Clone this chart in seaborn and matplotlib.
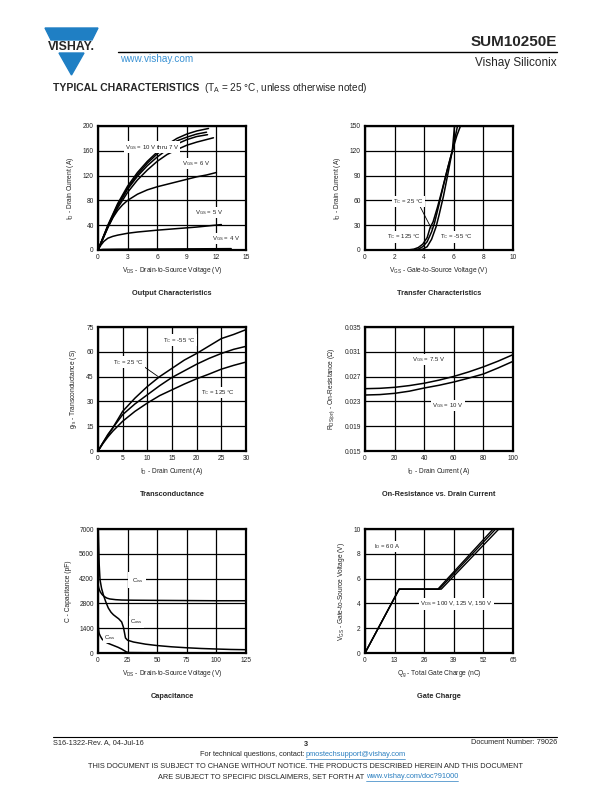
import numpy as np
import pandas as pd
import seaborn as sns
from matplotlib import pyplot as plt
from matplotlib.patches import Polygon

sns.set_style('white')
plt.rcParams['font.family'] = ['Liberation Sans', 'DejaVu Sans']
plt.rcParams['mathtext.fontset'] = 'custom'
plt.rcParams['mathtext.rm'] = 'Liberation Sans'

# output characteristics: VDS (V) vs ID (A)
vds_10 = [0, 1, 2, 3, 4, 5, 6, 7, 8, 9, 10, 11.2]
id_10 = [0, 40, 75, 103, 125, 143, 158, 170, 180, 187, 192, 196]
vds_9 = [0, 1, 2, 3, 4, 5, 6, 7, 8, 9, 10, 11]
id_9 = [0, 39, 73, 100, 122, 140, 155, 167, 176, 182, 187, 190]
vds_8 = [0, 1, 2, 3, 4, 5, 6, 7, 8, 9, 10, 11.1]
id_8 = [0, 38, 71, 98, 119, 136, 150, 162, 171, 178, 183, 186]
vds_7 = [0, 1, 2, 3, 4, 5, 6, 7, 8, 9, 10, 11.7]
id_7 = [0, 37, 68, 93, 113, 129, 143, 154, 162, 169, 174, 181]
vds_6 = [0, 0.5, 1, 1.5, 2, 2.5, 3, 4, 5, 6, 7, 8, 9, 10, 11, 12]
id_6 = [0, 18, 36, 52, 64, 73, 80, 90, 97, 102, 106, 110, 114, 118, 121, 125]
vds_5 = [0, 0.3, 0.6, 1, 1.5, 2, 3, 4, 6, 8, 10, 12.5]
id_5 = [0, 8, 14, 19, 22, 24, 27, 29, 32, 34.5, 37, 41]
vds_4 = [0, 0.5, 2, 6, 10, 13.5]
id_4 = [0, 1, 1.3, 1.6, 1.9, 2.2]

# transfer characteristics: VGS (V) vs ID (A)
vgs_125 = [2.9, 3.3, 3.6, 3.9, 4.2, 4.4, 4.6, 4.9, 5.2, 5.5, 5.9, 6.2, 6.45]
idt_125 = [0, 1, 3, 7, 15, 27, 34, 52, 72, 93, 120, 138, 150]
vgs_25 = [3.2, 3.6, 3.9, 4.2, 4.5, 4.7, 5.0, 5.3, 5.6, 5.9, 6.1, 6.25]
idt_25 = [0, 1, 4, 10, 22, 33, 55, 78, 100, 120, 137, 150]
vgs_m55 = [3.5, 3.9, 4.2, 4.5, 4.8, 5.0, 5.3, 5.6, 5.9, 6.05]
idt_m55 = [0, 1, 4, 13, 28, 42, 65, 92, 120, 150]

# transconductance: ID (A) vs gfs (S)
id_gfs = [0, 1, 2, 3, 5, 7.5, 10, 12.5, 15, 17.5, 20, 22.5, 25, 27.5, 30]
gfs_m55 = [0, 5, 9.5, 14, 24, 32, 39, 45, 50, 55, 59, 63.5, 68, 70.5, 73.4]
gfs_25 = [0, 5, 10, 14, 22, 28.5, 34, 39.5, 44.5, 48.5, 52.5, 56, 59, 61.5, 63.3]
gfs_125 = [0, 4.5, 8.5, 12, 18, 24, 29, 33.5, 37, 40.5, 43.7, 46.5, 49.5, 51.8, 53.8]

# on-resistance vs drain current
id_rds = [0, 10, 20, 30, 40, 50, 60, 70, 80, 90, 100]
rds_75 = [0.02505, 0.02511, 0.02527, 0.02555, 0.02593, 0.02643, 0.02703, 0.02775, 0.02857, 0.02950, 0.03054]
rds_10 = [0.02403, 0.02410, 0.02430, 0.02465, 0.02516, 0.02560, 0.02613, 0.02675, 0.02742, 0.02840, 0.02946]

# capacitance: VDS (V) vs C (pF)
v_ciss = [0, 0.5, 1, 2, 3.5, 5, 7.5, 10, 15, 20, 30, 50, 75, 100, 125]
c_ciss = [3900, 3700, 3600, 3440, 3300, 3200, 3100, 3050, 3010, 2990, 2980, 2970, 2960, 2950, 2950]
v_coss = [0.2, 0.5, 1, 1.7, 3, 4.5, 6.5, 8.7, 11, 13, 15.5, 17.5, 20, 21.5, 22.5, 23.2, 25, 30, 40, 50, 62, 75, 87, 100, 112, 125]
c_coss = [7000, 6200, 5000, 4140, 3650, 3290, 2900, 2540, 2300, 2160, 2030, 1930, 1750, 1450, 1100, 850, 720, 620, 500, 420, 350, 295, 255, 225, 200, 185]
v_crss = [0, 0.5, 1, 2, 3.5, 5.5, 8, 11, 14, 17, 20, 22, 24, 26, 40, 75, 125]
c_crss = [1650, 1300, 1100, 950, 780, 660, 560, 480, 400, 320, 220, 140, 60, 25, 18, 15, 12]

# gate charge: Qg (nC) vs VGS (V)
qg_100 = [0, 15, 32, 56.3]
qg_125 = [0, 15, 32.6, 57.4]
qg_150 = [0, 15, 33.5, 58.8]
vgs_qg = [0, 5.15, 5.15, 10]

W, H = 612, 792
fig = plt.figure(figsize=(W / 100, H / 100), dpi=100)


def fx(x):
    return x / W


def fy(y):
    return 1 - y / H


def make_axes(left, top, xlim, ylim, xticks, yticks, xlabel, ylabel, title, yfmt=None):
    ax = fig.add_axes([fx(left), fy(top + 124), 148 / W, 124 / H])
    ax.set_xlim(xlim)
    ax.set_ylim(ylim)
    ax.set_xticks(xticks)
    ax.set_yticks(yticks)
    if yfmt:
        ax.set_yticklabels([yfmt.format(v) for v in yticks])
    ax.grid(True, color='black', lw=0.9)
    ax.set_axisbelow(True)
    for s in ax.spines.values():
        s.set_color('black')
        s.set_linewidth(1.6)
    ax.tick_params(length=0, labelsize=4.8, colors='#222', pad=3)
    ax.set_xlabel(xlabel, fontsize=4.8, color='#222', labelpad=3)
    ax.set_ylabel(ylabel, fontsize=4.8, color='#222', labelpad=5)
    fig.text(fx(left + 74), fy(top + 167), title, ha='center', va='center',
             fontsize=5.3, fontweight='bold')
    return ax


def curve(ax, x, y, lw=1.1, color='black'):
    sns.lineplot(x=x, y=y, ax=ax, color=color, lw=lw, estimator=None, sort=False)


def label(ax, x, y, s, pad=0.8):
    ax.text(x, y, s, fontsize=4.3, ha='center', va='center', color='#222',
            bbox=dict(facecolor='white', edgecolor='none', pad=pad), zorder=5)


sub = lambda t: '$_{\\mathregular{' + t + '}}$'

# --- Output characteristics
ax1 = make_axes(98, 126, (0, 15), (0, 200), [0, 3, 6, 9, 12, 15], [0, 40, 80, 120, 160, 200],
                'V' + sub('DS') + ' - Drain-to-Source Voltage (V)', 'I' + sub('D') + ' - Drain Current (A)',
                'Output Characteristics')
for x, y in [(vds_10, id_10), (vds_9, id_9), (vds_8, id_8), (vds_7, id_7),
             (vds_6, id_6), (vds_5, id_5), (vds_4, id_4)]:
    curve(ax1, x, y)
label(ax1, 5.5, 166, 'V' + sub('GS') + ' = 10 V thru 7 V')
label(ax1, 9.9, 139, 'V' + sub('GS') + ' = 6 V')
label(ax1, 11.25, 60, 'V' + sub('GS') + ' = 5 V')
label(ax1, 13.0, 19, 'V' + sub('GS') + ' = 4 V')

# --- Transfer characteristics
ax2 = make_axes(365, 126, (0, 10), (0, 150), [0, 2, 4, 6, 8, 10], [0, 30, 60, 90, 120, 150],
                'V' + sub('GS') + ' - Gate-to-Source Voltage (V)', 'I' + sub('D') + ' - Drain Current (A)',
                'Transfer Characteristics')
for x, y in [(vgs_125, idt_125), (vgs_25, idt_25), (vgs_m55, idt_m55)]:
    curve(ax2, x, y)
ax2.plot([3.67, 4.48], [54.4, 26.2], color='black', lw=0.6, zorder=4)
label(ax2, 2.92, 59, 'T' + sub('C') + ' = 25 °C')
label(ax2, 2.6, 15.7, 'T' + sub('C') + ' = 125 °C')
label(ax2, 6.16, 15.7, 'T' + sub('C') + ' = -55 °C')

# --- Transconductance
ax3 = make_axes(98, 327, (0, 30), (0, 75), [0, 5, 10, 15, 20, 25, 30], [0, 15, 30, 45, 60, 75],
                'I' + sub('D') + ' - Drain Current (A)', 'g' + sub('fs') + ' - Transconductance (S)',
                'Transconductance')
for x, y in [(id_gfs, gfs_m55), (id_gfs, gfs_25), (id_gfs, gfs_125)]:
    curve(ax3, x, y)
ax3.plot([8.85, 12.2], [52, 45], color='black', lw=0.6, zorder=4)
label(ax3, 16.55, 67.1, 'T' + sub('C') + ' = -55 °C')
label(ax3, 6.2, 53.8, 'T' + sub('C') + ' = 25 °C')
label(ax3, 24.3, 35.3, 'T' + sub('C') + ' = 125 °C')

# --- On-resistance
ax4 = make_axes(365, 327, (0, 100), (0.015, 0.035), [0, 20, 40, 60, 80, 100],
                [0.015, 0.019, 0.023, 0.027, 0.031, 0.035],
                'I' + sub('D') + ' - Drain Current (A)',
                'R' + sub('DS(on)') + ' - On-Resistance (Ω)',
                'On-Resistance vs. Drain Current', yfmt='{:.3f}')
ax4.set_xticklabels(['0', '20', '40', '60', '80', '100'])
curve(ax4, id_rds, rds_75)
curve(ax4, id_rds, rds_10)
label(ax4, 43.2, 0.02979, 'V' + sub('GS') + ' = 7.5 V')
label(ax4, 56.1, 0.02231, 'V' + sub('GS') + ' = 10 V')

# --- Capacitance
ax5 = make_axes(98, 529, (0, 125), (0, 7000), [0, 25, 50, 75, 100, 125],
                [0, 1400, 2800, 4200, 5600, 7000],
                'V' + sub('DS') + ' - Drain-to-Source Voltage (V)', 'C - Capacitance (pF)',
                'Capacitance')
curve(ax5, v_ciss, c_ciss)
curve(ax5, v_coss, c_coss)
curve(ax5, v_crss, c_crss)
label(ax5, 33.2, 4100, 'C' + sub('iss'), pad=2.5)
label(ax5, 32.7, 1750, 'C' + sub('oss'))
label(ax5, 10.1, 900, 'C' + sub('rss'))

# --- Gate charge
ax6 = make_axes(365, 529, (0, 65), (0, 10), [0, 13, 26, 39, 52, 65], [0, 2, 4, 6, 8, 10],
                'Q' + sub('g') + ' - Total Gate Charge (nC)',
                'V' + sub('GS') + ' - Gate-to-Source Voltage (V)', 'Gate Charge')
for q in [qg_100, qg_125, qg_150]:
    curve(ax6, q, vgs_qg, lw=1.0)
label(ax6, 9.5, 8.57, 'I' + sub('D') + ' = 60 A')
label(ax6, 40.1, 3.95, 'V' + sub('DS') + ' = 100 V, 125 V, 150 V')

# --- header
blue = '#1f7fc4'
fig.patches.append(Polygon([(fx(45), fy(28)), (fx(98), fy(28)), (fx(92), fy(40)), (fx(51), fy(40))],
                           closed=True, transform=fig.transFigure, color=blue))
fig.patches.append(Polygon([(fx(59), fy(53)), (fx(84), fy(53)), (fx(71.5), fy(75))],
                           closed=True, transform=fig.transFigure, color=blue))
fig.text(fx(71.5), fy(47), 'VISHAY.', ha='center', va='center', fontsize=8.8,
         fontweight='bold', family='Liberation Sans')
fig.text(fx(120), fy(59), 'www.vishay.com', ha='left', va='center', fontsize=7.2, color='#3a92d4')
fig.add_artist(plt.Line2D([fx(118), fx(557)], [fy(52), fy(52)], transform=fig.transFigure,
                          color='black', lw=1))
fig.text(fx(557), fy(42), 'SUM10250E', ha='right', va='center', fontsize=11, fontweight='bold')
fig.text(fx(557), fy(63), 'Vishay Siliconix', ha='right', va='center', fontsize=8.5)
fig.text(fx(53), fy(88), 'TYPICAL CHARACTERISTICS', ha='left', va='center',
         fontsize=7.5, fontweight='bold')
fig.text(fx(204), fy(88), '(T' + sub('A') + ' = 25 °C, unless otherwise noted)', ha='left',
         va='center', fontsize=7.2)

# --- footer
fig.add_artist(plt.Line2D([fx(53), fx(557)], [fy(737), fy(737)], transform=fig.transFigure,
                          color='black', lw=0.8))
fig.text(fx(53), fy(743), 'S16-1322-Rev. A, 04-Jul-16', ha='left', va='center', fontsize=5.3)
fig.text(fx(306), fy(744), '3', ha='center', va='center', fontsize=5.3, fontweight='bold')
fig.text(fx(557), fy(743), 'Document Number: 79026', ha='right', va='center', fontsize=5.3)
fig.text(fx(306), fy(755), 'For technical questions, contact: ', ha='right', va='center',
         fontsize=5.3)
fig.text(fx(306), fy(755), 'pmostechsupport@vishay.com', ha='left', va='center', fontsize=5.3,
         color='#2a7fc0')
fig.add_artist(plt.Line2D([fx(306), fx(405)], [fy(759), fy(759)], transform=fig.transFigure,
                          color='#2a7fc0', lw=0.5))
fig.text(fx(306), fy(767), 'THIS DOCUMENT IS SUBJECT TO CHANGE WITHOUT NOTICE. THE PRODUCTS '
         'DESCRIBED HEREIN AND THIS DOCUMENT', ha='center', va='center', fontsize=5.3)
fig.text(fx(366), fy(777), 'ARE SUBJECT TO SPECIFIC DISCLAIMERS, SET FORTH AT ', ha='right',
         va='center', fontsize=5.3)
fig.text(fx(366), fy(777), 'www.vishay.com/doc?91000', ha='left', va='center', fontsize=5.3,
         color='#2a7fc0')
fig.add_artist(plt.Line2D([fx(366), fx(458)], [fy(781), fy(781)], transform=fig.transFigure,
                          color='#2a7fc0', lw=0.5))

fig.savefig('out.png', dpi=100)
